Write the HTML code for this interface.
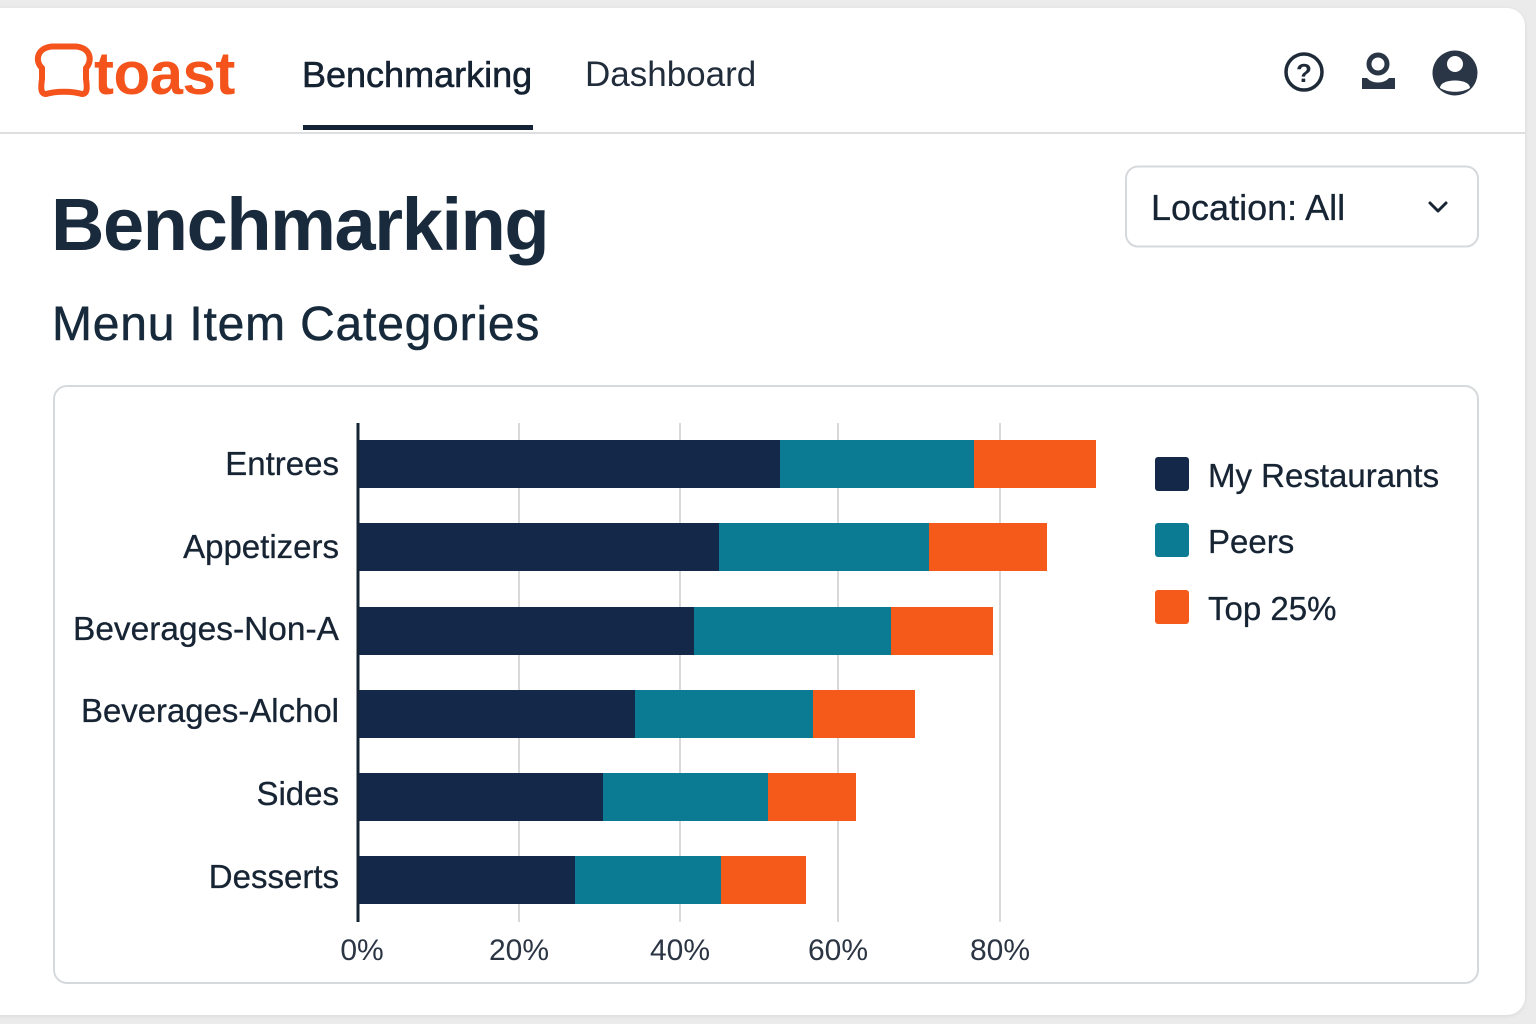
<!DOCTYPE html>
<html><head><meta charset="utf-8"><style>
html,body{margin:0;padding:0;}
body{width:1536px;height:1024px;background:#ebebeb;overflow:hidden;position:relative;font-family:"Liberation Sans",sans-serif;}
.card{position:absolute;left:-30px;top:8px;width:1555px;height:1007px;background:#fff;border-radius:18px;box-shadow:0 1px 4px rgba(0,0,0,0.08);}
svg{position:absolute;left:0;top:0;}
</style></head><body>
<div class="card"></div>
<svg width="1536" height="1024" viewBox="0 0 1536 1024" xmlns="http://www.w3.org/2000/svg" font-family="Liberation Sans, sans-serif">
  <!-- Logo -->
  <path d="M46 94 C40 94 41 86 42 79 L42 68 C35 62 36 48 52 46.5 L76 46.5 C92 48 92 62 86 68 L86 79 C87 86 88 94 82 94 C72 91 56 91 46 94 Z" fill="none" stroke="#f4531c" stroke-width="6" stroke-linejoin="round"/>
  <text x="94" y="94" font-size="60" font-weight="bold" fill="#f4531c" letter-spacing="-0.5">toast</text>
  <!-- Nav -->
  <text x="302" y="87" font-size="36" fill="#152232" stroke="#152232" stroke-width="0.6">Benchmarking</text>
  <text x="585" y="86" font-size="35" fill="#222d3c">Dashboard</text>
  <rect x="303" y="125" width="230" height="5" fill="#142436"/>
  <rect x="0" y="132" width="1525" height="2" fill="#dcdedf"/>
  <!-- Icons -->
  <circle cx="1304" cy="72" r="18" fill="none" stroke="#1e2a38" stroke-width="3.5"/>
  <text x="1304" y="82" font-size="26" font-weight="bold" fill="#1e2a38" text-anchor="middle">?</text>
  <circle cx="1378" cy="64" r="9" fill="none" stroke="#2a3646" stroke-width="5"/>
  <path d="M1362 78 L1367 78 C1372 84 1384 84 1389 78 L1395 78 L1395 89 L1362 89 Z" fill="#2a3646"/>
  <circle cx="1455" cy="73" r="22.5" fill="#2a3646"/>
  <circle cx="1455" cy="64" r="8" fill="#fff"/>
  <path d="M1440 88 C1440 78 1470 78 1470 88 C1462 93 1448 93 1440 88 Z" fill="#fff"/>
  <!-- Titles -->
  <text x="51" y="250" font-size="74" font-weight="bold" fill="#182a3b" letter-spacing="-1.4">Benchmarking</text>
  <text x="52" y="340" font-size="48" fill="#172a3b" letter-spacing="0.8" stroke="#172a3b" stroke-width="0.5">Menu Item Categories</text>
  <!-- Location dropdown -->
  <rect x="1126" y="166.5" width="352" height="80" rx="12" fill="#fff" stroke="#d6d9dc" stroke-width="2"/>
  <text x="1151" y="220" font-size="36" fill="#172434" stroke="#172434" stroke-width="0.3">Location: All</text>
  <path d="M1430 203 L1438 211 L1446 203" fill="none" stroke="#172434" stroke-width="3" stroke-linecap="round" stroke-linejoin="round"/>
  <!-- Chart panel -->
  <rect x="54" y="386" width="1424" height="597" rx="13" fill="#fff" stroke="#d6d9dc" stroke-width="2"/>
  <!-- gridlines -->
  <g stroke="#d9d9d9" stroke-width="2">
    <line x1="519" y1="423" x2="519" y2="922"/>
    <line x1="680" y1="423" x2="680" y2="922"/>
    <line x1="838" y1="423" x2="838" y2="922"/>
    <line x1="1000" y1="423" x2="1000" y2="922"/>
  </g>
  <!-- bars -->
  <g>
    <rect x="358" y="440" width="422" height="48" fill="#14294a"/>
    <rect x="780" y="440" width="194" height="48" fill="#0b7b94"/>
    <rect x="974" y="440" width="122" height="48" fill="#f55a1a"/>

    <rect x="358" y="523" width="361" height="48" fill="#14294a"/>
    <rect x="719" y="523" width="210" height="48" fill="#0b7b94"/>
    <rect x="929" y="523" width="118" height="48" fill="#f55a1a"/>

    <rect x="358" y="607" width="336" height="48" fill="#14294a"/>
    <rect x="694" y="607" width="197" height="48" fill="#0b7b94"/>
    <rect x="891" y="607" width="102" height="48" fill="#f55a1a"/>

    <rect x="358" y="690" width="277" height="48" fill="#14294a"/>
    <rect x="635" y="690" width="178" height="48" fill="#0b7b94"/>
    <rect x="813" y="690" width="102" height="48" fill="#f55a1a"/>

    <rect x="358" y="773" width="245" height="48" fill="#14294a"/>
    <rect x="603" y="773" width="165" height="48" fill="#0b7b94"/>
    <rect x="768" y="773" width="88" height="48" fill="#f55a1a"/>

    <rect x="358" y="856" width="217" height="48" fill="#14294a"/>
    <rect x="575" y="856" width="146" height="48" fill="#0b7b94"/>
    <rect x="721" y="856" width="85" height="48" fill="#f55a1a"/>
  </g>
  <line x1="358" y1="423" x2="358" y2="922" stroke="#142436" stroke-width="3"/>
  <!-- category labels -->
  <g font-size="33" fill="#172434" text-anchor="end" stroke="#172434" stroke-width="0.3">
    <text x="339" y="475">Entrees</text>
    <text x="339" y="558">Appetizers</text>
    <text x="339" y="640" textLength="266" lengthAdjust="spacingAndGlyphs">Beverages-Non-A</text>
    <text x="339" y="722" textLength="258" lengthAdjust="spacingAndGlyphs">Beverages-Alchol</text>
    <text x="339" y="805">Sides</text>
    <text x="339" y="888">Desserts</text>
  </g>
  <!-- tick labels -->
  <g font-size="30" fill="#2b3544" text-anchor="middle">
    <text x="362" y="960">0%</text>
    <text x="519" y="960">20%</text>
    <text x="680" y="960">40%</text>
    <text x="838" y="960">60%</text>
    <text x="1000" y="960">80%</text>
  </g>
  <!-- legend -->
  <rect x="1155" y="457" width="34" height="34" rx="3" fill="#14294a"/>
  <rect x="1155" y="523" width="34" height="34" rx="3" fill="#0b7b94"/>
  <rect x="1155" y="590" width="34" height="34" rx="3" fill="#f55a1a"/>
  <g font-size="33" fill="#172434" stroke="#172434" stroke-width="0.3">
    <text x="1208" y="487">My Restaurants</text>
    <text x="1208" y="553">Peers</text>
    <text x="1208" y="620">Top 25%</text>
  </g>
</svg>
</body></html>
